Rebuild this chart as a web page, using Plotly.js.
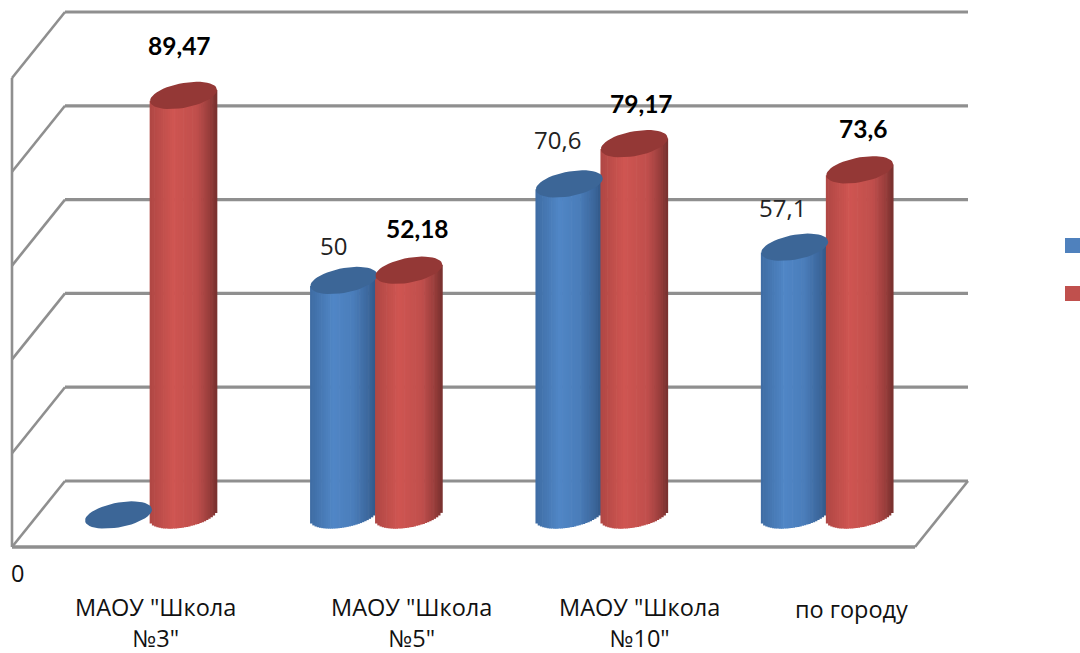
<!DOCTYPE html>
<html><head><meta charset="utf-8">
<script src="https://cdn.plot.ly/plotly-3.0.1.min.js"></script>
<style>html,body{margin:0;padding:0;background:#fff}#c{width:1080px;height:653px}</style></head>
<body><div id="c"></div>
<script>
const categories = ['МАОУ "Школа<br>№3"', 'МАОУ "Школа<br>№5"', 'МАОУ "Школа<br>№10"', 'по городу'];
const seriesBlue = [0, 50, 70.6, 57.1];
const seriesRed = [89.47, 52.18, 79.17, 73.6];
const blueLabels = ['', '50', '70,6', '57,1'];
const redLabels = ['89,47', '52,18', '79,17', '73,6'];
const gridValues = [0, 20, 40, 60, 80, 100];

// scale
const W = 1080, H = 653, X0 = 151, XS = 225.4, Y0 = 515, YS = 4.69;
const xd = p => (p - X0) / XS;
const yd = p => (Y0 - p) / YS;
const A = 33.5 / XS, B = 12.5 / YS, K = 5.5 / YS, OFF = 32.5 / XS, N = 30;
const DF = -32 / YS, DB = 34 / YS;   // depth offsets of front and back wall

function mix(stops, u) {
  for (let i = 0; i < stops.length - 1; i++) {
    const [a, ca] = stops[i], [b, cb] = stops[i + 1];
    if (u <= b) {
      const t = (u - a) / (b - a);
      return 'rgb(' + ca.map((c, j) => Math.round(c + (cb[j] - c) * t)).join(',') + ')';
    }
  }
}
const blueStops = [[-1, [62, 108, 163]], [-0.3, [80, 134, 198]], [0.3, [74, 125, 186]], [0.8, [58, 100, 152]], [1, [46, 84, 130]]];
const redStops = [[-1, [176, 71, 68]], [-0.3, [207, 85, 81]], [0.4, [192, 79, 76]], [0.8, [150, 60, 58]], [1, [118, 48, 46]]];

function strips(vals, sign, stops, name) {
  const x = [], y = [], base = [], color = [];
  vals.forEach((v, i) => {
    if (v <= 0) return;
    for (let s = 0; s < N; s++) {
      const u = -1 + (2 * s + 1) / N;
      const bot = K * u - B * Math.sqrt(1 - u * u);
      const top = v + K * u;
      x.push(i + sign * OFF + u * A); base.push(bot); y.push(top - bot); color.push(mix(stops, u));
    }
  });
  return { type: 'bar', name, x, y, base, width: 2 * A / N * 1.3, marker: { color, line: { width: 0 } }, hoverinfo: 'skip', showlegend: false };
}
function caps(vals, sign, fill, name) {
  const x = [], y = [];
  vals.forEach((v, i) => {
    for (let t = 0; t <= 48; t++) {
      const a = t / 48 * 2 * Math.PI;
      x.push(i + sign * OFF + A * Math.cos(a));
      y.push(v + K * Math.cos(a) + B * Math.sin(a));
    }
    x.push(null); y.push(null);
  });
  return { type: 'scatter', mode: 'lines', name, x, y, fill: 'toself', fillcolor: fill, line: { width: 0 }, hoverinfo: 'skip', showlegend: false };
}

const traces = [
  strips(seriesBlue, -1, blueStops, 'blue'),
  strips(seriesRed, 1, redStops, 'red'),
  caps(seriesBlue, -1, '#3c6697', 'blue top'),
  caps(seriesRed, 1, '#943836', 'red top')
];

// walls
const GRID = '#8f8f8f';
const seg = (x0, y0, x1, y1, w) => ({ type: 'line', layer: 'below', x0, y0, x1, y1, line: { color: GRID, width: w } });
const shapes = [];
const xF = xd(12), xB = xd(65), xR = xd(968), xFR = xd(915);
gridValues.forEach(v => {
  shapes.push(seg(xB, v + DB, xR, v + DB, 3.2));
  shapes.push(seg(xF, v + DF, xB, v + DB, 2.6));
});
shapes.push(seg(xF, gridValues[0] + DF, xF, gridValues[gridValues.length - 1] + DF, 2.6));
shapes.push(seg(xF, gridValues[0] + DF, xFR, gridValues[0] + DF, 3.4));
shapes.push(seg(xFR, gridValues[0] + DF, xR, gridValues[0] + DB, 2.6));
// legend keys (text is cut off in the source)
[[238, '#4f81bd'], [286, '#c0504d']].forEach(([t, c]) => shapes.push({
  type: 'rect', layer: 'above', x0: xd(1065), x1: xd(1081), y0: yd(t), y1: yd(t + 15), fillcolor: c, line: { width: 0 }
}));

const REG = 'Open Sans, sans-serif', BOLD = 'Lato, "Open Sans", sans-serif';
const annotations = [];
const lab = (x, y, text, font, xshift, yshift) => annotations.push({
  x, y, text, showarrow: false, xanchor: 'center', yanchor: 'middle', xshift, yshift, font, align: 'center'
});
const catShift = [4, 35, 38, 24];
const blueOff = [[0, 0], [-10, 35], [-12, 44], [-12, 40]];
const redOff = [[-4, 50], [9, 42], [7, 40], [3, 41]];
categories.forEach((c, i) => {
  lab(i, yd(i === 3 ? 609 : 622), c, { family: REG, size: 23.5, color: '#111' }, catShift[i], 0);
  if (blueLabels[i]) lab(i - OFF, seriesBlue[i], blueLabels[i], { family: REG, size: 24, color: '#222' }, blueOff[i][0], blueOff[i][1]);
  lab(i + OFF, seriesRed[i], redLabels[i], { family: BOLD, size: 24.5, color: '#000', weight: 700 }, redOff[i][0], redOff[i][1]);
});
annotations.push({ x: xd(17), y: yd(573), text: '0', showarrow: false, font: { family: REG, size: 23.5, color: '#111' } });

Plotly.newPlot('c', traces, {
  width: W, height: H, margin: { l: 0, r: 0, t: 0, b: 0 }, paper_bgcolor: '#fff', plot_bgcolor: '#fff',
  barmode: 'overlay', showlegend: false,
  xaxis: { range: [xd(0), xd(W)], visible: false, fixedrange: true },
  yaxis: { range: [yd(H), yd(0)], visible: false, fixedrange: true },
  shapes, annotations
}, { displayModeBar: false });
</script></body></html>
